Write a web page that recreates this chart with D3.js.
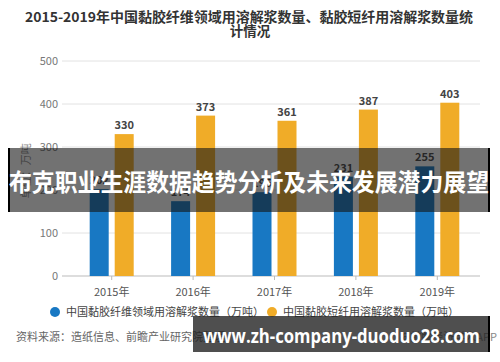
<!DOCTYPE html>
<html>
<head>
<meta charset="utf-8">
<script src="https://cdn.jsdelivr.net/npm/d3@7"></script>
<style>
	body { margin: 0; background: #fff; }
	svg { display: block; font-family: "Noto Sans CJK SC", "Noto Sans", sans-serif; }
</style>
</head>
<body>
<svg id="chart" width="500" height="362"></svg>
<script>
const years = ['2015年', '2016年', '2017年', '2018年', '2019年'];
const fiberValues = [202, 174, 195, 231, 255];   // 中国黏胶纤维领域用溶解浆数量
const staValues = [330, 373, 361, 387, 403];     // 中国黏胶短纤用溶解浆数量
const seriesNames = ['中国黏胶纤维领域用溶解浆数量（万吨）', '中国黏胶短纤用溶解浆数量（万吨）'];
const seriesColors = ['#1878c3', '#f0ac28'];
const yTicks = [0, 100, 200, 300, 400, 500];

const svg = d3.select('#chart');
const plot = { left: 62, right: 480, top: 61, bottom: 276 };

// title
const title = svg.append('text')
	.attr('text-anchor', 'middle')
	.attr('font-size', 13.5)
	.attr('font-weight', 'bold')
	.attr('fill', '#333');
title.append('tspan').attr('x', 249).attr('y', 22)
	.attr('textLength', 448).attr('lengthAdjust', 'spacingAndGlyphs')
	.text('2015-2019年中国黏胶纤维领域用溶解浆数量、黏胶短纤用溶解浆数量统');
title.append('tspan').attr('x', 250).attr('y', 36).text('计情况');

const x = d3.scaleBand().domain(years).range([71, 478]);
const y = d3.scaleLinear().domain([0, 500]).range([plot.bottom, plot.top]);

// grid
svg.append('g')
	.selectAll('line')
	.data(yTicks.slice(1))
	.enter().append('line')
	.attr('x1', plot.left).attr('x2', plot.right)
	.attr('y1', d => y(d)).attr('y2', d => y(d))
	.attr('stroke', '#e2e2e2');

svg.append('g')
	.selectAll('text')
	.data(yTicks)
	.enter().append('text')
	.attr('x', 58).attr('y', d => y(d) + 4)
	.attr('text-anchor', 'end')
	.attr('font-size', 11)
	.attr('fill', '#777')
	.text(d => d);

// y axis title
svg.append('text')
	.attr('transform', `translate(30,${y(245)}) rotate(-90)`)
	.attr('text-anchor', 'middle')
	.attr('font-size', 11)
	.attr('fill', '#888')
	.text('单位：万吨');

// x axis
const xAxis = svg.append('g')
	.attr('transform', `translate(0,${plot.bottom})`)
	.call(d3.axisBottom(x).tickSize(4).tickSizeOuter(0));
xAxis.select('.domain').attr('d', `M${plot.left},0H${plot.right}`).attr('stroke', '#bbb');
xAxis.selectAll('.tick line').attr('stroke', '#bbb');
xAxis.selectAll('.tick text')
	.attr('dy', 13)
	.attr('font-size', 11)
	.attr('fill', '#555')
	.attr('font-family', '"Noto Sans CJK SC", sans-serif');

// bars
const barW = 19, gap = 6;
const series = [fiberValues, staValues];
series.forEach((vals, s) => {
	const off = s === 0 ? -(gap / 2 + barW) : gap / 2;
	const g = svg.append('g');
	g.selectAll('rect')
		.data(vals)
		.enter().append('rect')
		.attr('x', (d, i) => x(years[i]) + x.bandwidth() / 2 + off)
		.attr('y', d => y(d))
		.attr('width', barW)
		.attr('height', d => plot.bottom - y(d))
		.attr('fill', seriesColors[s]);
	g.selectAll('text')
		.data(vals)
		.enter().append('text')
		.attr('x', (d, i) => x(years[i]) + x.bandwidth() / 2 + off + barW / 2)
		.attr('y', d => y(d) - 5)
		.attr('text-anchor', 'middle')
		.attr('font-size', 11)
		.attr('font-weight', 'bold')
		.attr('fill', '#444')
		.text(d => d);
});

// legend
const legend = svg.append('g').attr('font-size', 11);
const legendX = [55, 272];
seriesNames.forEach((name, i) => {
	legend.append('circle')
		.attr('cx', legendX[i]).attr('cy', 312).attr('r', 5)
		.attr('fill', seriesColors[i]);
	legend.append('text')
		.attr('x', legendX[i] + 11).attr('y', 316)
		.attr('fill', '#444')
		.text(name);
});

// source
svg.append('text')
	.attr('x', 16).attr('y', 341)
	.attr('font-size', 11)
	.attr('fill', '#666')
	.text('资料来源：造纸信息、前瞻产业研究院整理');
svg.append('text')
	.attr('x', 497).attr('y', 341)
	.attr('text-anchor', 'end')
	.attr('font-size', 11)
	.attr('fill', '#888')
	.text('@前瞻经济学人APP');

// overlay banner
svg.append('rect')
	.attr('x', 8).attr('y', 148).attr('width', 482).attr('height', 64)
	.attr('fill', 'rgba(20,20,20,0.6)');
svg.append('rect')
	.attr('x', 8).attr('y', 148).attr('width', 2).attr('height', 64).attr('fill', '#000');
svg.append('rect')
	.attr('x', 488).attr('y', 148).attr('width', 2).attr('height', 64).attr('fill', '#000');
svg.append('text')
	.attr('x', 249).attr('y', 191)
	.attr('text-anchor', 'middle')
	.attr('font-size', 24)
	.attr('font-weight', 'bold')
	.attr('fill', '#fff')
	.attr('textLength', 480)
	.attr('lengthAdjust', 'spacingAndGlyphs')
	.text('布克职业生涯数据趋势分析及未来发展潜力展望');

// bottom watermark
svg.append('rect')
	.attr('x', 193).attr('y', 316).attr('width', 297).attr('height', 36)
	.attr('fill', 'rgba(30,30,30,0.78)');
svg.append('rect')
	.attr('x', 488).attr('y', 316).attr('width', 2).attr('height', 36).attr('fill', '#000');
svg.append('text')
	.attr('x', 203).attr('y', 343)
	.attr('font-family', '"Open Sans", "DejaVu Sans", sans-serif')
	.attr('font-size', 19)
	.attr('font-weight', 'bold')
	.attr('fill', '#fff')
	.attr('textLength', 277)
	.attr('lengthAdjust', 'spacingAndGlyphs')
	.text('www.zh-company-duoduo28.com');
</script>
</body>
</html>
